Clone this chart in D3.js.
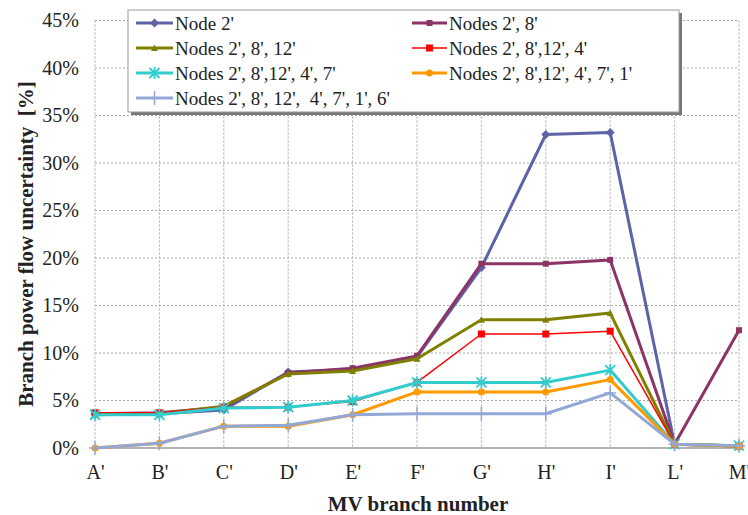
<!DOCTYPE html>
<html><head><meta charset="utf-8">
<script src="https://cdn.jsdelivr.net/npm/d3@7"></script>
<style>
body{margin:0;background:#fff;}
text{font-family:"Liberation Serif","Times New Roman",serif;}
</style></head>
<body><svg id="c" width="748" height="515"></svg>
<script>
const categories = ["A'","B'","C'","D'","E'","F'","G'","H'","I'","L'","M'"];
const yTicks = [0,0.05,0.10,0.15,0.20,0.25,0.30,0.35,0.40,0.45];
const seriesNames = ["Node 2'","Nodes 2', 8'","Nodes 2', 8', 12'","Nodes 2', 8',12', 4'","Nodes 2', 8',12', 4', 7'","Nodes 2', 8',12', 4', 7', 1'","Nodes 2', 8', 12',  4', 7', 1', 6'"];
const node2      = [0.036,0.036,0.040,0.080,0.083,0.096,0.190,0.330,0.332,0.004,0.002];
const nodes28    = [0.036,0.037,0.043,0.079,0.084,0.097,0.194,0.194,0.198,0.004,0.124];
const nodes2812  = [0.035,0.036,0.044,0.078,0.081,0.094,0.135,0.135,0.142,0.004,0.002];
const nodes28124 = [0.037,0.037,0.043,0.043,0.049,0.069,0.120,0.120,0.123,0.004,0.002];
const nodes281247 = [0.035,0.035,0.042,0.043,0.050,0.069,0.069,0.069,0.082,0.004,0.0025];
const nodes2812471 = [0.000,0.005,0.023,0.023,0.035,0.059,0.059,0.059,0.072,0.004,0.002];
const nodes28124716 = [0.000,0.005,0.023,0.024,0.035,0.036,0.036,0.036,0.058,0.004,0.0025];
const colors = ["#5E62A6","#8B3465","#808000","#FF0000","#33CCCC","#FF9900","#93A7D6"];
const markers = ["diamond","square","triangle","bigsquare","asterisk","circle","plus"];
const widths = [3,3,3,1.5,3,3,3];
const allValues = [node2,nodes28,nodes2812,nodes28124,nodes281247,nodes2812471,nodes28124716];

const svg = d3.select("#c");
const x = d3.scalePoint().domain(categories).range([95,739]);
const y = d3.scaleLinear().domain([0,0.45]).range([448,20.5]);

// gridlines
const g = svg.append("g");
g.selectAll(".hg").data(yTicks.filter(d=>d>0)).join("line")
  .attr("x1",95).attr("x2",739).attr("y1",d=>y(d)).attr("y2",d=>y(d))
  .attr("stroke","#aaa").attr("stroke-width",1).attr("stroke-dasharray","2,2");
g.selectAll(".vg").data(categories).join("line")
  .attr("x1",d=>x(d)).attr("x2",d=>x(d)).attr("y1",20.5).attr("y2",448)
  .attr("stroke","#aaa").attr("stroke-width",1).attr("stroke-dasharray","2,2");

// axes
const yAxis = d3.axisLeft(y).tickValues(yTicks).tickFormat(d=>Math.round(d*100)+"%").tickSize(0).tickPadding(16);
const ya = svg.append("g").attr("transform","translate(95,0)").call(yAxis);
ya.select(".domain").remove();
ya.selectAll("text").attr("font-size",20).attr("fill","#222").attr("font-family","Liberation Serif");
const xAxis = d3.axisBottom(x).tickSize(0).tickPadding(17);
const xa = svg.append("g").attr("transform","translate(0,448)").call(xAxis);
xa.select(".domain").remove();
xa.selectAll("text").attr("font-size",20).attr("fill","#222").attr("font-family","Liberation Serif");
svg.append("line").attr("x1",95).attr("x2",739).attr("y1",448).attr("y2",448).attr("stroke","#999").attr("stroke-width",1.5);

// titles
svg.append("text").attr("x",418).attr("y",511).attr("text-anchor","middle")
  .attr("font-size",21).attr("font-weight","bold").attr("fill","#222").text("MV branch number");
svg.append("text").attr("transform","translate(33,244) rotate(-90)").attr("text-anchor","middle")
  .attr("font-size",21).attr("font-weight","bold").attr("fill","#222").style("white-space","pre")
  .text("Branch power flow uncertainty  [%]");

function drawMarker(sel, type, color, cx, cy){
  const m = sel.append("g").attr("transform",`translate(${cx},${cy})`);
  if(type==="diamond") m.append("path").attr("d","M0,-4.5L4.5,0L0,4.5L-4.5,0Z").attr("fill",color);
  else if(type==="square") m.append("rect").attr("x",-3).attr("y",-3).attr("width",6).attr("height",6).attr("fill",color);
  else if(type==="bigsquare") m.append("rect").attr("x",-3.5).attr("y",-3.5).attr("width",7).attr("height",7).attr("fill",color);
  else if(type==="triangle") m.append("path").attr("d","M0,-3.5L3.5,3L-3.5,3Z").attr("fill",color);
  else if(type==="circle") m.append("circle").attr("r",3.5).attr("fill",color);
  else if(type==="asterisk") m.append("path").attr("d","M-5,-5L5,5M-5,5L5,-5M0,-6L0,6").attr("stroke",color).attr("stroke-width",1.8);
  else if(type==="plus") m.append("path").attr("d","M-6,0L6,0M0,-7L0,7").attr("stroke",color).attr("stroke-width",1.5);
}

const line = d3.line().x((d,i)=>x(categories[i])).y(d=>y(d));
allValues.forEach((vals,si)=>{
  const sg = svg.append("g");
  sg.append("path").datum(vals).attr("d",line).attr("fill","none")
    .attr("stroke",colors[si]).attr("stroke-width",widths[si]).attr("stroke-linejoin","round");
  vals.forEach((v,i)=>drawMarker(sg,markers[si],colors[si],x(categories[i]),y(v)));
});

// legend
const lg = svg.append("g");
lg.append("rect").attr("x",131).attr("y",13).attr("width",551).attr("height",102).attr("fill","#777");
lg.append("rect").attr("x",128).attr("y",10).attr("width",551).attr("height",102).attr("fill","#fff").attr("stroke","#999").attr("stroke-width",1);
seriesNames.forEach((name,i)=>{
  const col = i%2, row = Math.floor(i/2);
  const lx = col===0 ? 136 : 412;
  const ly = 23 + row*25;
  const ll = col===0 ? 37 : 35;
  lg.append("line").attr("x1",lx).attr("x2",lx+ll).attr("y1",ly).attr("y2",ly)
    .attr("stroke",colors[i]).attr("stroke-width",widths[i]);
  drawMarker(lg,markers[i],colors[i],lx+ll/2,ly);
  lg.append("text").attr("x",lx+ll+2).attr("y",ly+6.5).attr("font-size",19).attr("fill","#222")
    .style("white-space","pre").text(name);
});
</script></body></html>
